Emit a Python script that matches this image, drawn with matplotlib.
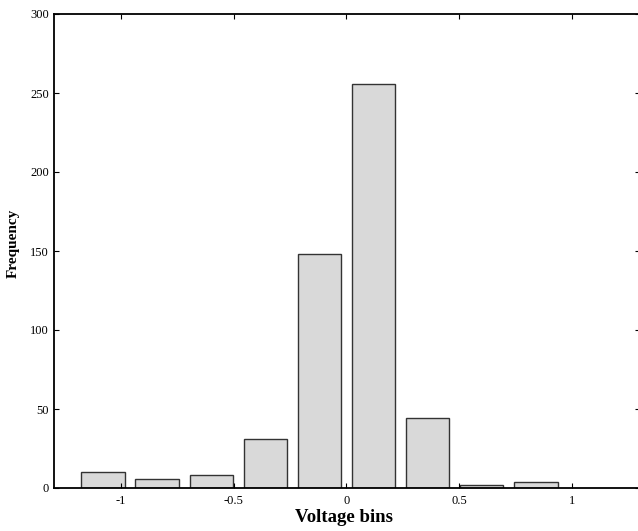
import matplotlib
matplotlib.use("Agg")
import matplotlib.pyplot as plt

bin_centers = [-1.08, -0.84, -0.60, -0.36, -0.12, 0.12, 0.36, 0.60, 0.84]
frequency = [10, 6, 8, 31, 148, 256, 44, 2, 4]
xticks = [-1, -0.5, 0, 0.5, 1]
xticklabels = ["-1", "-0.5", "0", "0.5", "1"]
yticks = [0, 50, 100, 150, 200, 250, 300]

plt.rcParams['font.family'] = ['Liberation Serif', 'DejaVu Serif']

W, H = 638, 531
fig = plt.figure(figsize=(W / 100, H / 100), dpi=100)
left, right, bottom, top = 54, 639.6, 488, 14
ax = fig.add_axes([left / W, (H - bottom) / H, (right - left) / W, (bottom - top) / H])

ax.bar(bin_centers, frequency, width=0.192, color='#d9d9d9', edgecolor='#333333', linewidth=1.0)

ax.set_xlim(-1.297, 1.3)
ax.set_ylim(0, 300)
ax.set_xticks(xticks)
ax.set_xticklabels(xticklabels)
ax.set_yticks(yticks)

ax.tick_params(direction='in', length=3.6, width=0.8, top=True, right=True,
               labelsize=9, colors='black')
ax.tick_params(axis='x', pad=5)
ax.tick_params(axis='y', pad=3.5)
for s in ax.spines.values():
    s.set_linewidth(1.3)

ax.set_xlabel('Voltage bins', fontsize=13.5, fontweight='bold')
ax.set_ylabel('Frequency', fontsize=11, fontweight='bold')
ax.xaxis.set_label_coords((344 - left) / (right - left), -(518 - bottom) / (bottom - top))
ax.yaxis.set_label_coords(-(54 - 13.5) / (right - left), (bottom - 243) / (bottom - top))
ax.xaxis.label.set_va('center')
ax.yaxis.label.set_va('center')

fig.savefig('out.png', dpi=100)
